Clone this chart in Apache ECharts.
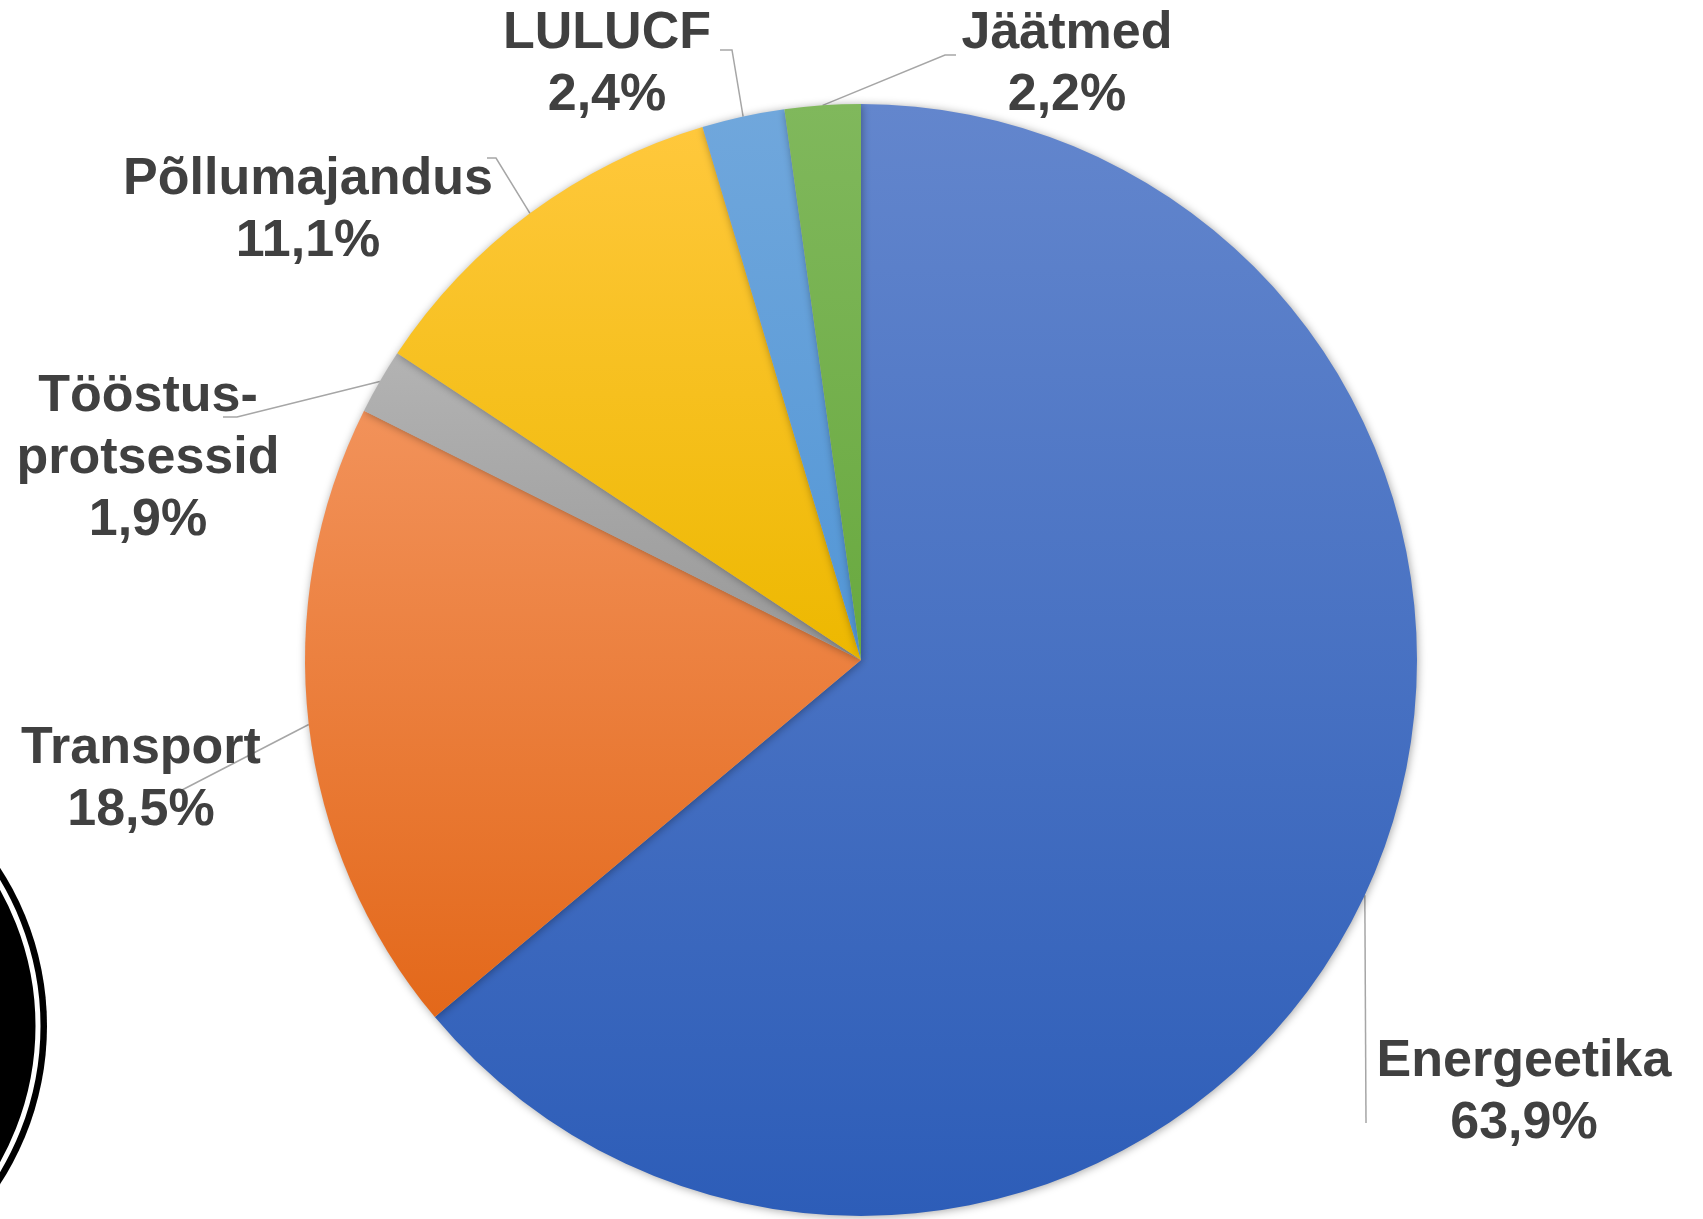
<!DOCTYPE html>
<html>
<head>
<meta charset="utf-8">
<script src="https://cdn.jsdelivr.net/npm/echarts@6/dist/echarts.min.js"></script>
<style>
html, body { margin: 0; padding: 0; background: #ffffff; }
#chart { width: 1703px; height: 1219px; }
</style>
</head>
<body>
<div id="chart"></div>
<script>
const categories = ['Energeetika', 'Transport', 'Tööstus-protsessid', 'Põllumajandus', 'LULUCF', 'Jäätmed'];
const shares = [63.9, 18.5, 1.9, 11.1, 2.4, 2.2];

// gradient per slice, top colour then bottom colour
const sliceColors = [
    ['#6386cd', '#2d5db8'],
    ['#f2925a', '#e3681a'],
    ['#b3b3b3', '#989898'],
    ['#ffc83c', '#edb800'],
    ['#70a7dc', '#5296d6'],
    ['#80b85c', '#69a93f']
];

// label centre and the bends of the leader line (the line starts on the slice edge)
const labelSpots = [
    { x: 1524, y: 1093, bend: [[1366, 1123], [1366, 1123]] },
    { x: 141, y: 780, bend: [[182, 790], [182, 790]] },
    { x: 148, y: 459, bend: [[237, 417], [223, 417]] },
    { x: 308, y: 211, bend: [[496, 158], [487, 158]] },
    { x: 607, y: 65, bend: [[732, 50], [720, 50]] },
    { x: 1067, y: 65, bend: [[945, 55], [956, 55]] }
];

const chart = echarts.init(document.getElementById('chart'), null, { renderer: 'canvas' });

const pieData = categories.map(function (name, i) {
    return {
        name: name,
        value: shares[i],
        itemStyle: {
            color: new echarts.graphic.LinearGradient(0, 0, 0, 1, [
                { offset: 0, color: sliceColors[i][0] },
                { offset: 1, color: sliceColors[i][1] }
            ])
        }
    };
});

chart.setOption({
    backgroundColor: '#ffffff',
    animation: false,
    graphic: [
        // the round badge cut off at the left edge
        { type: 'circle', shape: { cx: -243, cy: 1026, r: 290 }, style: { fill: '#000000' }, z: 0 },
        { type: 'circle', shape: { cx: -243, cy: 1026, r: 281 }, style: { fill: null, stroke: '#ffffff', lineWidth: 5 }, z: 1 }
    ],
    series: [{
        type: 'pie',
        center: [861, 660],
        radius: 556,
        startAngle: 90,
        clockwise: true,
        avoidLabelOverlap: false,
        emphasis: { disabled: true },
        itemStyle: {
            shadowBlur: 8,
            shadowColor: 'rgba(0, 0, 0, 0.35)',
            shadowOffsetX: 1,
            shadowOffsetY: 1
        },
        label: {
            show: true,
            position: 'outside',
            formatter: function (p) {
                return p.name.replace('-', '-\n') + '\n' + p.value.toFixed(1).replace('.', ',') + '%';
            },
            fontFamily: '"Liberation Sans", Arial, sans-serif',
            fontWeight: 'bold',
            fontSize: 52,
            lineHeight: 62,
            color: '#404040',
            align: 'center'
        },
        labelLine: {
            show: true,
            length: 20,
            length2: 10,
            lineStyle: { color: '#a6a6a6', width: 1.5 }
        },
        labelLayout: function (params) {
            const spot = labelSpots[params.dataIndex];
            const start = params.labelLinePoints ? params.labelLinePoints[0] : spot.bend[0];
            return {
                x: spot.x,
                y: spot.y,
                align: 'center',
                verticalAlign: 'middle',
                labelLinePoints: [start, spot.bend[0], spot.bend[1]]
            };
        },
        data: pieData
    }]
});

window.addEventListener('resize', function () {
    chart.resize();
});
</script>
</body>
</html>
